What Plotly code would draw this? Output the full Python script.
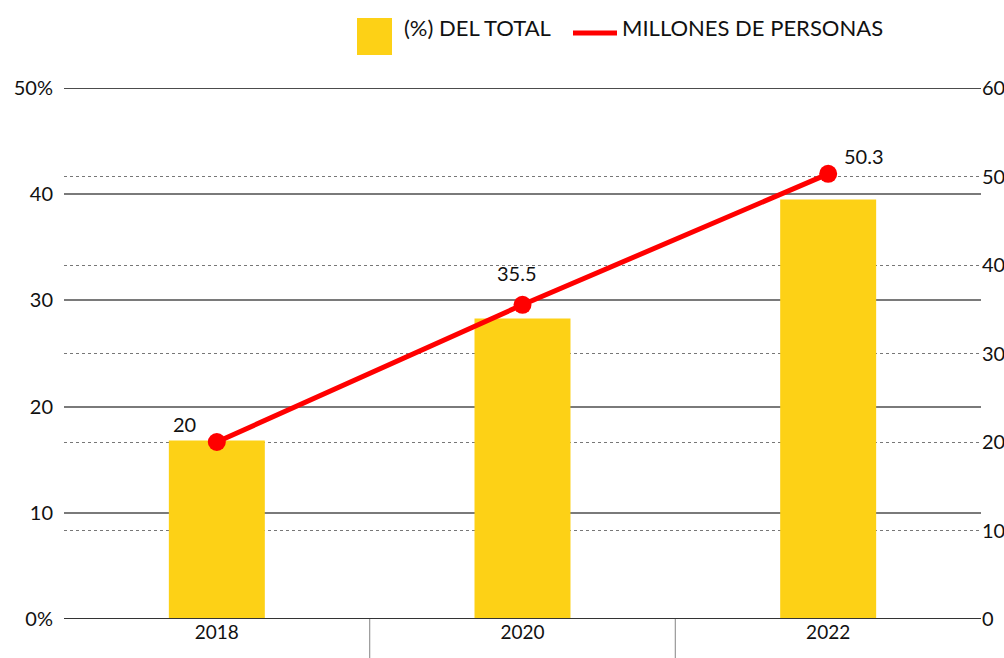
import plotly.graph_objects as go

# Data
years = ["2018", "2020", "2022"]
pct_total = [16.8, 28.3, 39.5]          # (%) del total — left axis
millions = [20, 35.5, 50.3]             # millones de personas — right axis
bar_name = "(%) DEL TOTAL"
line_name = "MILLONES DE PERSONAS"

left_ticks = [0, 10, 20, 30, 40, 50]
left_ticktext = ["0%", "10", "20", "30", "40", "50%"]
right_ticks = [0, 10, 20, 30, 40, 50, 60]

# Styling
YELLOW = "#FDD116"
RED = "#FF0000"
FONT = "Lato"
W, H = 1004, 658
M_L, M_R, M_T, M_B = 64, 23, 88, 39
PW, PH = W - M_L - M_R, H - M_T - M_B


def px_x(x):
    return (x - M_L) / PW


def px_y(y):
    return 1 - (y - M_T) / PH


fig = go.Figure()

fig.add_trace(go.Bar(
    x=years, y=pct_total, name=bar_name,
    marker=dict(color=YELLOW, line=dict(width=0)),
    yaxis="y", showlegend=False,
))

fig.add_trace(go.Scatter(
    x=years, y=millions, name=line_name, mode="lines+markers",
    line=dict(color=RED, width=5),
    marker=dict(color=RED, size=18),
    yaxis="y2", showlegend=False,
))

# Value labels for the line points (x given as category index)
label_offsets = [(-32, 18), (-6, 32), (36, 18)]
annotations = []
for i, (v, (dx, dy)) in enumerate(zip(millions, label_offsets)):
    annotations.append(dict(
        x=i, y=v, xref="x", yref="y2", text=f"{v:g}", showarrow=False,
        xshift=dx, yshift=dy, font=dict(family=FONT, size=20, color="#111"),
    ))

# Legend drawn in the header
shapes = [
    dict(type="rect", xref="paper", yref="paper",
         x0=px_x(357), x1=px_x(392), y0=px_y(55), y1=px_y(18),
         fillcolor=YELLOW, line=dict(width=0)),
    dict(type="line", xref="paper", yref="paper",
         x0=px_x(573), x1=px_x(617), y0=px_y(33), y1=px_y(33),
         line=dict(color=RED, width=5)),
]
annotations += [
    dict(x=px_x(402), y=px_y(28), xref="paper", yref="paper", text=bar_name,
         showarrow=False, xanchor="left", yanchor="middle",
         font=dict(family=FONT, size=22, color="#111")),
    dict(x=px_x(620), y=px_y(28), xref="paper", yref="paper", text=line_name,
         showarrow=False, xanchor="left", yanchor="middle",
         font=dict(family=FONT, size=22, color="#111")),
]

# Category separators below the axis
for b in [0.5, 1.5]:
    shapes.append(dict(type="line", xref="x", yref="paper", x0=b, x1=b,
                       y0=0, y1=-0.08, line=dict(color="#999", width=1.2)))

# Top and bottom solid rules
shapes.append(dict(type="line", xref="paper", yref="y", x0=0, x1=1, y0=50, y1=50,
                   line=dict(color="#111", width=1.5)))
shapes.append(dict(type="line", xref="paper", yref="y", x0=0, x1=1, y0=0, y1=0,
                   line=dict(color="#333", width=2)))

fig.update_layout(
    width=W, height=H,
    margin=dict(l=M_L, r=M_R, t=M_T, b=M_B, autoexpand=False),
    paper_bgcolor="white", plot_bgcolor="white",
    bargap=0.686,
    font=dict(family=FONT, size=19, color="#111"),
    xaxis=dict(
        type="category", showgrid=False, zeroline=False, showline=False,
        ticks="", tickfont=dict(size=19), range=[-0.5, 2.5], automargin=False,
    ),
    yaxis=dict(
        range=[0, 50], tickvals=left_ticks, ticktext=left_ticktext,
        showgrid=True, gridcolor="#7a7a7a", gridwidth=1.5,
        zeroline=False, showline=False, ticks="", automargin=False,
        tickfont=dict(size=20), ticklabelstandoff=10,
    ),
    yaxis2=dict(
        range=[0, 60], tickvals=right_ticks, overlaying="y", side="right",
        showgrid=True, gridcolor="#777", gridwidth=1, griddash="dot",
        zeroline=False, showline=False, ticks="", automargin=False,
        tickfont=dict(size=20), ticklabelstandoff=0,
    ),
    shapes=shapes,
    annotations=annotations,
)

fig.write_html("out.html")
